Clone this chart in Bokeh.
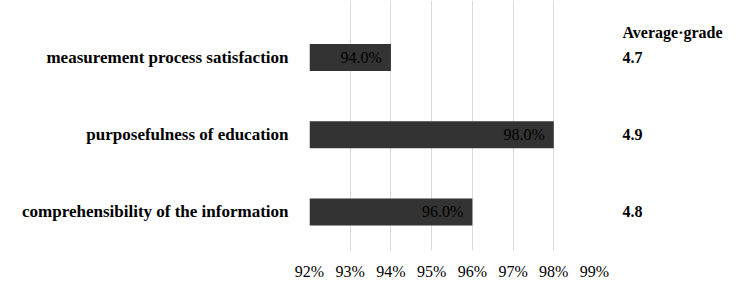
from bokeh.plotting import figure
from bokeh.models import Range1d, FixedTicker, LinearAxis, ColumnDataSource
from bokeh.core.properties import value
from bokeh.embed import file_html
from bokeh.resources import INLINE

categories = ["comprehensibility of the information", "purposefulness of education", "measurement process satisfaction"]
percent = [96.0, 98.0, 94.0]
grades = ["4.8", "4.9", "4.7"]
grade_header = "Average\u00b7grade"
x_ticks = [92, 93, 94, 95, 96, 97, 98, 99]

FONT = "Liberation Serif"
pos = list(range(len(categories)))
header_pos = 2.325

p = figure(width=744, height=299, output_backend="svg", toolbar_location=None,
           x_range=Range1d(92, 99), y_range=Range1d(-0.5, 2.74),
           min_border_left=309, min_border_right=150, min_border_top=0, min_border_bottom=49)
p.outline_line_color = None
p.background_fill_color = "white"

src = ColumnDataSource(dict(y=pos, right=percent, lab=[f"{v:.1f}%" for v in percent]))
p.hbar(y="y", left=92, right="right", height=0.35, source=src, fill_color="#333333", line_color=None)
p.text(x="right", y="y", text="lab", source=src, x_offset=-9, text_align="right", text_baseline="middle",
       text_font=value(FONT), text_font_size="16px", text_color="#000000")

p.xgrid.ticker = FixedTicker(ticks=x_ticks)
p.xgrid.grid_line_color = "#d9d9d9"
p.ygrid.grid_line_color = None

xa = p.xaxis[0]
xa.ticker = FixedTicker(ticks=x_ticks)
xa.major_label_overrides = {t: f"{t}%" for t in x_ticks}
xa.axis_line_color = None
xa.major_tick_line_color = None
xa.minor_tick_line_color = None
xa.major_label_standoff = 6
xa.major_label_text_font = FONT
xa.major_label_text_font_size = "16px"
xa.major_label_text_color = "#000000"

ya = p.yaxis[0]
ya.ticker = FixedTicker(ticks=pos)
ya.major_label_overrides = {i: c for i, c in zip(pos, categories)}
ya.axis_line_color = None
ya.major_tick_line_color = None
ya.minor_tick_line_color = None
ya.major_label_standoff = 15
ya.major_label_text_font = FONT
ya.major_label_text_font_size = "17px"
ya.major_label_text_font_style = "bold"
ya.major_label_text_color = "#000000"

rover = {i: g for i, g in zip(pos, grades)}
rover[header_pos] = grade_header
ra = LinearAxis(ticker=FixedTicker(ticks=pos + [header_pos]))
ra.major_label_overrides = rover
ra.axis_line_color = None
ra.major_tick_line_color = None
ra.minor_tick_line_color = None
ra.major_label_standoff = 22
ra.major_label_text_font = FONT
ra.major_label_text_font_size = "16px"
ra.major_label_text_font_style = "bold"
ra.major_label_text_color = "#000000"
p.add_layout(ra, "right")

open("out.html", "w").write(file_html(p, INLINE))
